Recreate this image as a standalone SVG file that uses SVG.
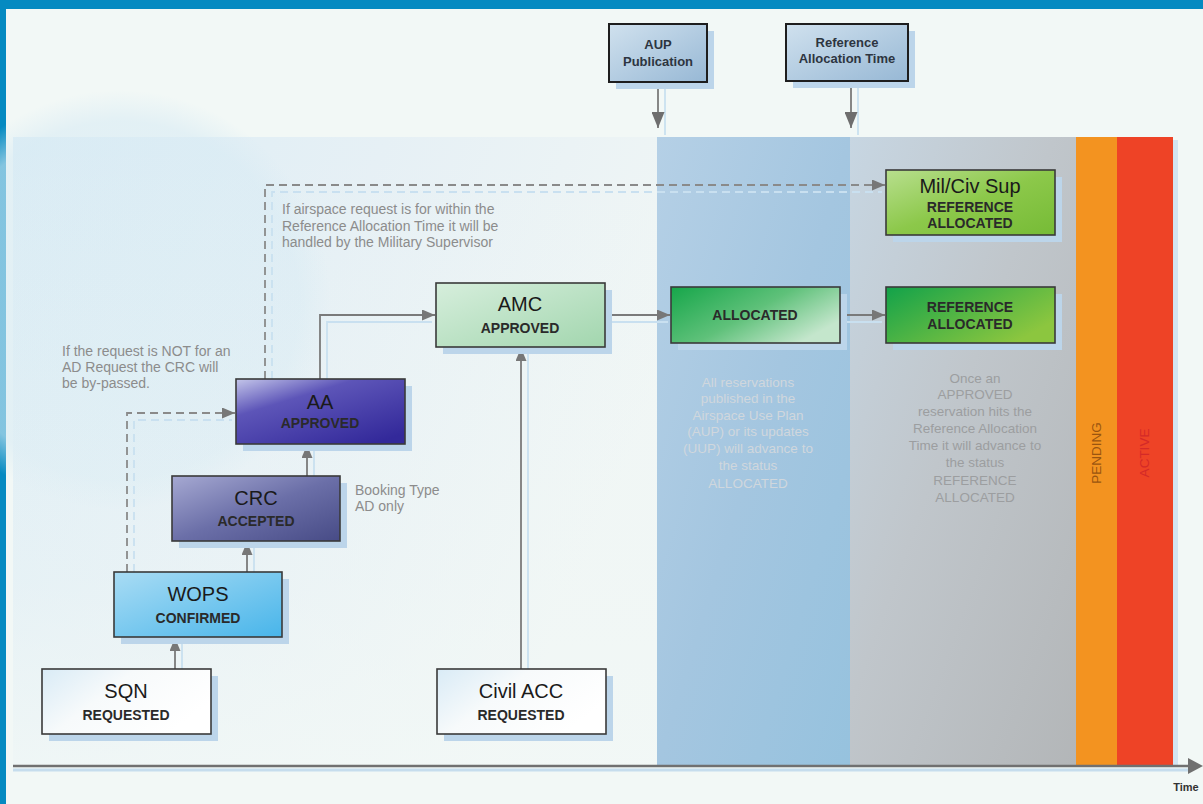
<svg xmlns="http://www.w3.org/2000/svg" width="1203" height="804" viewBox="0 0 1203 804">
  <style>
    .title { font-family: "Liberation Sans", Arial, sans-serif; font-size: 20px; fill: #1a1a1a; text-anchor: middle; }
    .sub { font-family: "Liberation Sans", Arial, sans-serif; font-size: 14px; font-weight: bold; fill: #2a2a2a; text-anchor: middle; }
    .note { font-family: "Liberation Sans", Arial, sans-serif; font-size: 14px; fill: #8c8c8c; }
    .noteC { font-family: "Liberation Sans", Arial, sans-serif; font-size: 13.5px; text-anchor: middle; }
    .tag { font-family: "Liberation Sans", Arial, sans-serif; font-size: 13px; font-weight: bold; fill: #2d3540; text-anchor: middle; }
    .box { stroke: #3a3a3a; stroke-width: 1.6; }
    .shadow { fill: #bcd5ea; }
    .conn { fill: none; stroke: #7a7a7a; stroke-width: 1.8; }
    .dash { fill: none; stroke: #8a8a8a; stroke-width: 1.8; stroke-dasharray: 8 5; }
    .ghost { fill: none; stroke: #c9e0f0; stroke-width: 1.8; }
  </style>
  <defs>
    <marker id="arrBig" viewBox="0 0 10 10" refX="10" refY="5" markerWidth="13" markerHeight="11" orient="auto" markerUnits="userSpaceOnUse" preserveAspectRatio="none">
      <path d="M0,0 L10,5 L0,10 z" fill="#777"/>
    </marker>
    <marker id="arrTop" viewBox="0 0 10 10" refX="10" refY="5" markerWidth="16" markerHeight="13" orient="auto" markerUnits="userSpaceOnUse" preserveAspectRatio="none">
      <path d="M0,0 L10,5 L0,10 z" fill="#6e6e6e"/>
    </marker>
    <linearGradient id="gLeft" x1="0" y1="0" x2="1" y2="0.4">
      <stop offset="0" stop-color="#dcedf5"/>
      <stop offset="0.5" stop-color="#e6f0f5"/>
      <stop offset="1" stop-color="#f0f6f5"/>
    </linearGradient>
    <linearGradient id="gLeftFade" x1="0" y1="0" x2="0" y2="1">
      <stop offset="0" stop-color="#f2f8f6" stop-opacity="0"/>
      <stop offset="0.7" stop-color="#f2f8f6" stop-opacity="0.3"/>
      <stop offset="1" stop-color="#f2f8f6" stop-opacity="0.8"/>
    </linearGradient>
    <linearGradient id="gBlue" x1="0" y1="0" x2="1" y2="1">
      <stop offset="0" stop-color="#b5d0e6"/>
      <stop offset="0.5" stop-color="#a4c6e0"/>
      <stop offset="1" stop-color="#96c2de"/>
    </linearGradient>
    <linearGradient id="gGray" x1="0" y1="0" x2="1" y2="1">
      <stop offset="0" stop-color="#c7d6e2"/>
      <stop offset="0.45" stop-color="#c0c6cb"/>
      <stop offset="1" stop-color="#b3b6b8"/>
    </linearGradient>
    <linearGradient id="gTop" x1="0" y1="0" x2="1" y2="1">
      <stop offset="0" stop-color="#d0e1ee"/>
      <stop offset="1" stop-color="#97b8d5"/>
    </linearGradient>
    <linearGradient id="gMil" x1="0" y1="0" x2="1" y2="1">
      <stop offset="0" stop-color="#b8df8e"/>
      <stop offset="0.5" stop-color="#8cc84a"/>
      <stop offset="1" stop-color="#76bb36"/>
    </linearGradient>
    <linearGradient id="gRef" x1="0" y1="0" x2="1" y2="0.6">
      <stop offset="0" stop-color="#12a24a"/>
      <stop offset="0.6" stop-color="#5cb843"/>
      <stop offset="1" stop-color="#8cc63f"/>
    </linearGradient>
    <linearGradient id="gAlloc" x1="0" y1="0" x2="1" y2="0.6">
      <stop offset="0" stop-color="#16a64a"/>
      <stop offset="0.55" stop-color="#5fc17a"/>
      <stop offset="1" stop-color="#c4e6cc"/>
    </linearGradient>
    <linearGradient id="gAmc" x1="0" y1="0" x2="1" y2="1">
      <stop offset="0" stop-color="#d6eedc"/>
      <stop offset="1" stop-color="#a2d6ae"/>
    </linearGradient>
    <linearGradient id="gAA" x1="0" y1="0" x2="0.8" y2="1">
      <stop offset="0" stop-color="#c4c6ea"/>
      <stop offset="0.35" stop-color="#5d55b8"/>
      <stop offset="1" stop-color="#33299a"/>
    </linearGradient>
    <linearGradient id="gCRC" x1="0" y1="0" x2="1" y2="1">
      <stop offset="0" stop-color="#a6a9d2"/>
      <stop offset="0.5" stop-color="#6b6fa8"/>
      <stop offset="1" stop-color="#474b86"/>
    </linearGradient>
    <linearGradient id="gWops" x1="0" y1="0" x2="1" y2="1">
      <stop offset="0" stop-color="#a9dcf4"/>
      <stop offset="1" stop-color="#48b5ea"/>
    </linearGradient>
    <linearGradient id="gReq" x1="0" y1="0" x2="1" y2="0.5">
      <stop offset="0" stop-color="#d9ebf6"/>
      <stop offset="0.45" stop-color="#f7fafb"/>
      <stop offset="1" stop-color="#ffffff"/>
    </linearGradient>
    <radialGradient id="gSwirl" cx="0.5" cy="0.5" r="0.5">
      <stop offset="0.85" stop-color="#d8ebf4" stop-opacity="0.6"/>
      <stop offset="1" stop-color="#d8ebf4" stop-opacity="0"/>
    </radialGradient>
  </defs>

  <!-- page -->
  <rect x="0" y="0" width="1203" height="804" fill="#f2f8f6"/>
  <rect x="0" y="0" width="1203" height="9" fill="#058ac1"/>
  <rect x="0" y="0" width="6" height="804" fill="#058ac1"/>

  <!-- time bands -->
  <g id="bands">
    <rect x="13" y="137" width="645" height="629" fill="url(#gLeft)"/>
    <circle cx="120" cy="300" r="210" fill="url(#gSwirl)"/>
    <rect x="13" y="137" width="645" height="629" fill="url(#gLeftFade)"/>
    <rect x="657" y="137" width="194" height="629" fill="url(#gBlue)"/>
    <rect x="850" y="137" width="227" height="629" fill="url(#gGray)"/>
    <rect x="1076" y="137" width="42" height="629" fill="#f39320"/>
    <rect x="1117" y="137" width="56" height="629" fill="#ee4326"/>
    <rect x="1173" y="140" width="5" height="626" fill="#d2e4f1"/>
    <text class="noteC" transform="translate(1101,453) rotate(-90)" fill="#9a5510" font-size="13">PENDING</text>
    <text class="noteC" transform="translate(1149,453) rotate(-90)" fill="#d42a28" font-size="13">ACTIVE</text>
  </g>

  <!-- time axis -->
  <g id="axis">
    <line x1="13" y1="770" x2="1190" y2="770" stroke="#c6dded" stroke-width="3"/>
    <line x1="13" y1="766" x2="1192" y2="766" stroke="#707070" stroke-width="2.4"/>
    <path d="M1188,758 L1203,766 L1188,774 z" fill="#707070"/>
    <text x="1186" y="791" font-family="Liberation Sans, Arial, sans-serif" font-size="11" font-weight="bold" fill="#333" text-anchor="middle">Time</text>
  </g>

  <!-- notes -->
  <g id="notes">
    <text class="note" x="282" y="214">If airspace request is for within the</text>
    <text class="note" x="282" y="231">Reference Allocation Time it will be</text>
    <text class="note" x="282" y="247">handled by the Military Supervisor</text>
    <text class="note" x="62" y="356">If the request is NOT for an</text>
    <text class="note" x="62" y="372">AD Request the CRC will</text>
    <text class="note" x="62" y="388">be by-passed.</text>
    <text class="note" x="355" y="495">Booking Type</text>
    <text class="note" x="355" y="511">AD only</text>
    <g class="noteC" fill="#d0d7dd">
      <text x="748" y="387">All reservations</text>
      <text x="748" y="403">published in the</text>
      <text x="748" y="420">Airspace Use Plan</text>
      <text x="748" y="436">(AUP) or its updates</text>
      <text x="748" y="453">(UUP) will advance to</text>
      <text x="748" y="470">the status</text>
      <text x="748" y="488">ALLOCATED</text>
    </g>
    <g class="noteC" fill="#9c9ea0">
      <text x="975" y="383">Once an</text>
      <text x="975" y="399">APPROVED</text>
      <text x="975" y="416">reservation hits the</text>
      <text x="975" y="433">Reference Allocation</text>
      <text x="975" y="450">Time it will advance to</text>
      <text x="975" y="467">the status</text>
      <text x="975" y="485">REFERENCE</text>
      <text x="975" y="502">ALLOCATED</text>
    </g>
  </g>

  <!-- connectors -->
  <g id="connectors">
    <!-- soft light-blue echoes -->
    <path class="ghost" d="M182,669 V644"/>
    <path class="ghost" d="M254,572 V548"/>
    <path class="ghost" d="M314,476 V451"/>
    <path class="ghost" d="M528,669 V354"/>
    <path class="ghost" d="M327,379 V322 H432"/>
    <path class="ghost" d="M612,322 H668"/>
    <path class="ghost" d="M847,322 H882"/>
    <path class="ghost" d="M134,572 V420 H232" stroke-dasharray="8 5"/>
    <path class="ghost" d="M272,379 V192 H882" stroke-dasharray="8 5"/>
    <path class="ghost" d="M665,84 V135"/>
    <path class="ghost" d="M858,84 V135"/>

    <path class="conn" d="M175,669 V638" marker-end="url(#arrBig)"/>
    <path class="conn" d="M247,572 V542" marker-end="url(#arrBig)"/>
    <path class="conn" d="M307,476 V445" marker-end="url(#arrBig)"/>
    <path class="conn" d="M521,669 V348" marker-end="url(#arrBig)"/>
    <path class="conn" d="M320,379 V315 H435" marker-end="url(#arrBig)"/>
    <path class="conn" d="M605,315 H670" marker-end="url(#arrBig)"/>
    <path class="conn" d="M840,315 H885" marker-end="url(#arrBig)"/>
    <path class="dash" d="M127,572 V413 H235" marker-end="url(#arrBig)"/>
    <path class="dash" d="M265,379 V185 H885" marker-end="url(#arrBig)"/>
    <path class="conn" d="M658,82 V128" stroke-width="2.4" marker-end="url(#arrTop)"/>
    <path class="conn" d="M851,82 V128" stroke-width="2.4" marker-end="url(#arrTop)"/>
  </g>

  <!-- milestone boxes -->
  <g id="aup-publication">
    <rect class="shadow" x="616" y="31" width="98" height="58"/>
    <rect x="609" y="24" width="98" height="58" fill="url(#gTop)" stroke="#1e1e1e" stroke-width="2"/>
    <text class="tag" x="658" y="49">AUP</text>
    <text class="tag" x="658" y="66">Publication</text>
  </g>
  <g id="reference-allocation-time">
    <rect class="shadow" x="793" y="31" width="122" height="57"/>
    <rect x="786" y="24" width="122" height="57" fill="url(#gTop)" stroke="#1e1e1e" stroke-width="2"/>
    <text class="tag" x="847" y="47">Reference</text>
    <text class="tag" x="847" y="63">Allocation Time</text>
  </g>

  <!-- state nodes -->
  <g id="milciv-sup">
    <rect class="shadow" x="893" y="177" width="169" height="65"/>
    <rect class="box" x="886" y="170" width="169" height="65" fill="url(#gMil)"/>
    <text class="title" x="970" y="193" fill="#1a2a10">Mil/Civ Sup</text>
    <text class="sub" x="970" y="212" fill="#1d3a12">REFERENCE</text>
    <text class="sub" x="970" y="228" fill="#1d3a12">ALLOCATED</text>
  </g>
  <g id="reference-allocated">
    <rect class="shadow" x="893" y="294" width="169" height="56"/>
    <rect class="box" x="886" y="287" width="169" height="56" fill="url(#gRef)"/>
    <text class="sub" x="970" y="312" fill="#0f3518">REFERENCE</text>
    <text class="sub" x="970" y="329" fill="#0f3518">ALLOCATED</text>
  </g>
  <g id="allocated">
    <rect class="shadow" x="678" y="294" width="169" height="56"/>
    <rect class="box" x="671" y="287" width="169" height="56" fill="url(#gAlloc)"/>
    <text class="sub" x="755" y="320" fill="#0f3a1a">ALLOCATED</text>
  </g>
  <g id="amc">
    <rect class="shadow" x="443" y="290" width="169" height="64"/>
    <rect class="box" x="436" y="283" width="169" height="64" fill="url(#gAmc)"/>
    <text class="title" x="520" y="311">AMC</text>
    <text class="sub" x="520" y="333" fill="#15401f">APPROVED</text>
  </g>
  <g id="aa">
    <rect class="shadow" x="243" y="386" width="169" height="65"/>
    <rect class="box" x="236" y="379" width="169" height="65" fill="url(#gAA)"/>
    <text class="title" x="320" y="409" fill="#1c1a5e">AA</text>
    <text class="sub" x="320" y="428" fill="#3a37aa">APPROVED</text>
  </g>
  <g id="crc">
    <rect class="shadow" x="179" y="483" width="168" height="65"/>
    <rect class="box" x="172" y="476" width="168" height="65" fill="url(#gCRC)"/>
    <text class="title" x="256" y="505" fill="#15152e">CRC</text>
    <text class="sub" x="256" y="526" fill="#15152e">ACCEPTED</text>
  </g>
  <g id="wops">
    <rect class="shadow" x="121" y="579" width="168" height="65"/>
    <rect class="box" x="114" y="572" width="168" height="65" fill="url(#gWops)"/>
    <text class="title" x="198" y="601" fill="#10222e">WOPS</text>
    <text class="sub" x="198" y="623" fill="#123446">CONFIRMED</text>
  </g>
  <g id="sqn">
    <rect class="shadow" x="49" y="676" width="169" height="65"/>
    <rect class="box" x="42" y="669" width="169" height="65" fill="url(#gReq)"/>
    <text class="title" x="126" y="698">SQN</text>
    <text class="sub" x="126" y="720">REQUESTED</text>
  </g>
  <g id="civil-acc">
    <rect class="shadow" x="444" y="676" width="169" height="65"/>
    <rect class="box" x="437" y="669" width="169" height="65" fill="url(#gReq)"/>
    <text class="title" x="521" y="698">Civil ACC</text>
    <text class="sub" x="521" y="720">REQUESTED</text>
  </g>
</svg>
